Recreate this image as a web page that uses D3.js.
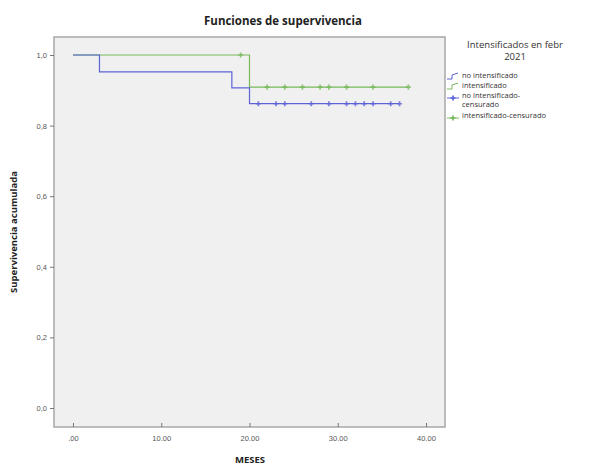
<!DOCTYPE html>
<html><head><meta charset="utf-8">
<script src="https://cdn.jsdelivr.net/npm/d3@7"></script>
<style>body{margin:0;background:#fff;} svg{display:block;font-family:"Open Sans",sans-serif;}</style>
</head><body>
<script>
// Data
const groups = ["no intensificado", "intensificado"];
const noIntSteps = [[0, 1.0], [3, 0.952], [18, 0.907], [20, 0.862], [37, 0.862]];
const intSteps = [[0, 1.0], [20, 0.909], [38, 0.909]];
const noIntCensored = [21, 23, 24, 27, 29, 31, 32, 33, 34, 36, 37];
const intCensored = [19, 22, 24, 26, 28, 29, 31, 34, 38];
const xTicks = [0, 10, 20, 30, 40];
const xTickLabels = [".00", "10.00", "20.00", "30.00", "40.00"];
const yTicks = [0, 0.2, 0.4, 0.6, 0.8, 1.0];
const yTickLabels = ["0,0", "0,2", "0,4", "0,6", "0,8", "1,0"];
const legendLabels = [["no intensificado"], ["intensificado"], ["no intensificado-", "censurado"], ["intensificado-censurado"]];

const W = 589, H = 468;
const blue = "#5b63d6", green = "#77b85a";
const svg = d3.select("body").append("svg").attr("width", W).attr("height", H);

const box = {l: 54, r: 445, t: 37, b: 427};
const x = d3.scaleLinear().domain([0, 40]).range([73, 426]);
const y = d3.scaleLinear().domain([0, 1]).range([408, 55]);

svg.append("rect").attr("x", box.l).attr("y", box.t).attr("width", box.r - box.l).attr("height", box.b - box.t)
  .attr("fill", "#f0f0f0").attr("stroke", "#a8a8a8").attr("stroke-width", 1.5);

// Axes
const gx = svg.append("g").attr("transform", `translate(0,${box.b})`)
  .call(d3.axisBottom(x).tickValues(xTicks).tickFormat((d, i) => xTickLabels[i]).tickSize(4).tickSizeOuter(0));
gx.select(".domain").remove();
gx.selectAll("text").attr("font-size", 7.5).attr("fill", "#555").attr("dy", "0.9em");
gx.selectAll("line").attr("stroke", "#777").attr("transform", "translate(0,-4)");

const gy = svg.append("g").attr("transform", `translate(${box.l},0)`)
  .call(d3.axisLeft(y).tickValues(yTicks).tickFormat((d, i) => yTickLabels[i]).tickSize(4).tickSizeOuter(0));
gy.select(".domain").remove();
gy.selectAll("text").attr("font-size", 7.5).attr("fill", "#555");
gy.selectAll("line").attr("stroke", "#777");

// Curves
const line = d3.line().x(d => x(d[0])).y(d => y(d[1])).curve(d3.curveStepAfter);
function drawGroup(steps, cens, color) {
  svg.append("path").datum(steps).attr("d", line).attr("fill", "none").attr("stroke", color).attr("stroke-width", 1.2);
  const valAt = t => { let v = steps[0][1]; for (const s of steps) if (s[0] <= t) v = s[1]; return v; };
  svg.append("g").selectAll("path").data(cens).join("path")
    .attr("d", d3.symbol(d3.symbolCross, 14))
    .attr("transform", d => `translate(${x(d)},${y(valAt(d))})`)
    .attr("fill", color).attr("opacity", 0.8);
}
drawGroup(intSteps, intCensored, green);
drawGroup(noIntSteps, noIntCensored, blue);

// Title & labels
svg.append("text").attr("x", 283).attr("y", 25).attr("text-anchor", "middle")
  .attr("font-size", 11.5).attr("font-weight", "bold").attr("fill", "#222").text("Funciones de supervivencia");
svg.append("text").attr("x", 250).attr("y", 463).attr("text-anchor", "middle")
  .attr("font-size", 9.5).attr("font-weight", "bold").attr("fill", "#222").text("MESES");
svg.append("text").attr("transform", "translate(17,232) rotate(-90)").attr("text-anchor", "middle")
  .attr("font-size", 9.5).attr("font-weight", "bold").attr("fill", "#222").text("Supervivencia acumulada");

// Legend
const lg = svg.append("g");
lg.append("text").attr("x", 515).attr("y", 48).attr("text-anchor", "middle").attr("font-size", 9.5).attr("fill", "#333").text("Intensificados en febr");
lg.append("text").attr("x", 515).attr("y", 60).attr("text-anchor", "middle").attr("font-size", 9.5).attr("fill", "#333").text("2021");
const legColors = [blue, green, blue, green];
const legY = [76, 86, 96, 116];
legendLabels.forEach((lines, i) => {
  const yy = legY[i];
  if (i < 2) {
    lg.append("path").attr("d", `M447,${yy + 3}L452,${yy + 3}L452,${yy - 1}L458,${yy - 3}`).attr("fill", "none").attr("stroke", legColors[i]).attr("stroke-width", 1);
  } else {
    lg.append("line").attr("x1", 447).attr("x2", 459).attr("y1", yy + 2).attr("y2", yy + 2).attr("stroke", legColors[i]).attr("stroke-width", 1);
    lg.append("path").attr("d", d3.symbol(d3.symbolCross, 14)).attr("transform", `translate(453,${yy + 2})`).attr("fill", legColors[i]);
  }
  lines.forEach((t, j) => {
    lg.append("text").attr("x", 462).attr("y", yy + 2 + j * 9).attr("font-size", 7.5).attr("fill", "#333").text(t);
  });
});
</script>
</body></html>
